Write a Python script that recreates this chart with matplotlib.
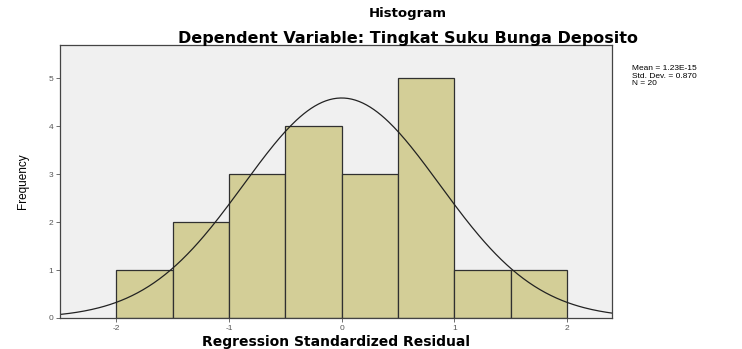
import matplotlib.pyplot as plt
import numpy as np

# data
bin_edges = [-2.0, -1.5, -1.0, -0.5, 0.0, 0.5, 1.0, 1.5, 2.0]
counts = [1, 2, 3, 4, 3, 5, 1, 1]
mean_resid = 0.0
std_resid = 0.87
n_obs = 20
x_ticks = [-2, -1, 0, 1, 2]
y_ticks = [0, 1, 2, 3, 4, 5]
stats_text = "Mean = 1.23E-15\nStd. Dev. = 0.870\nN = 20"

plt.rcParams['font.family'] = ['Liberation Sans', 'DejaVu Sans']
plt.rcParams['axes.unicode_minus'] = False

fig = plt.figure(figsize=(7.42, 3.49), dpi=100)
ax = fig.add_axes([60 / 742, 1 - 318 / 349, 552 / 742, 273 / 349])
ax.set_facecolor("#f0f0f0")

width = bin_edges[1] - bin_edges[0]
centers = [e + width / 2 for e in bin_edges[:-1]]
ax.bar(centers, counts, width=width, color="#d3ce97", edgecolor="#303030", linewidth=0.9)

# normal curve from mean / std
ax.set_xlim(-2.5, 2.4)
xs = np.linspace(-2.5, 2.4, 300)
ys = n_obs * width * np.exp(-0.5 * ((xs - mean_resid) / std_resid) ** 2) / (std_resid * np.sqrt(2 * np.pi))
ax.plot(xs, ys, color="#222222", linewidth=0.9)

ax.set_ylim(0, 5.69)
ax.set_xticks(x_ticks)
ax.set_yticks(y_ticks)
ax.tick_params(labelsize=6, colors="#555555", length=3, width=0.6, pad=2)
for s in ax.spines.values():
    s.set_color("#444444")
    s.set_linewidth(0.9)

ax.set_ylabel("Frequency", fontsize=8.5, labelpad=14, family=["Liberation Sans Narrow", "Liberation Sans", "DejaVu Sans"])
ax.set_xlabel("Regression Standardized Residual", fontsize=10, fontweight="bold", labelpad=2,
              family=["DejaVu Sans"])

fig.text(408 / 742, 1 - 14 / 349, "Histogram", ha="center", va="center", fontsize=9.5, fontweight="bold",
         family=["DejaVu Sans"])
fig.text(408 / 742, 1 - 39 / 349, "Dependent Variable: Tingkat Suku Bunga Deposito",
         ha="center", va="center", fontsize=11.5, fontweight="bold", family=["DejaVu Sans"])
fig.text(632 / 742, 1 - 76 / 349, stats_text, ha="left", va="center", fontsize=6, linespacing=1.1)

fig.savefig("out.png", dpi=100)
